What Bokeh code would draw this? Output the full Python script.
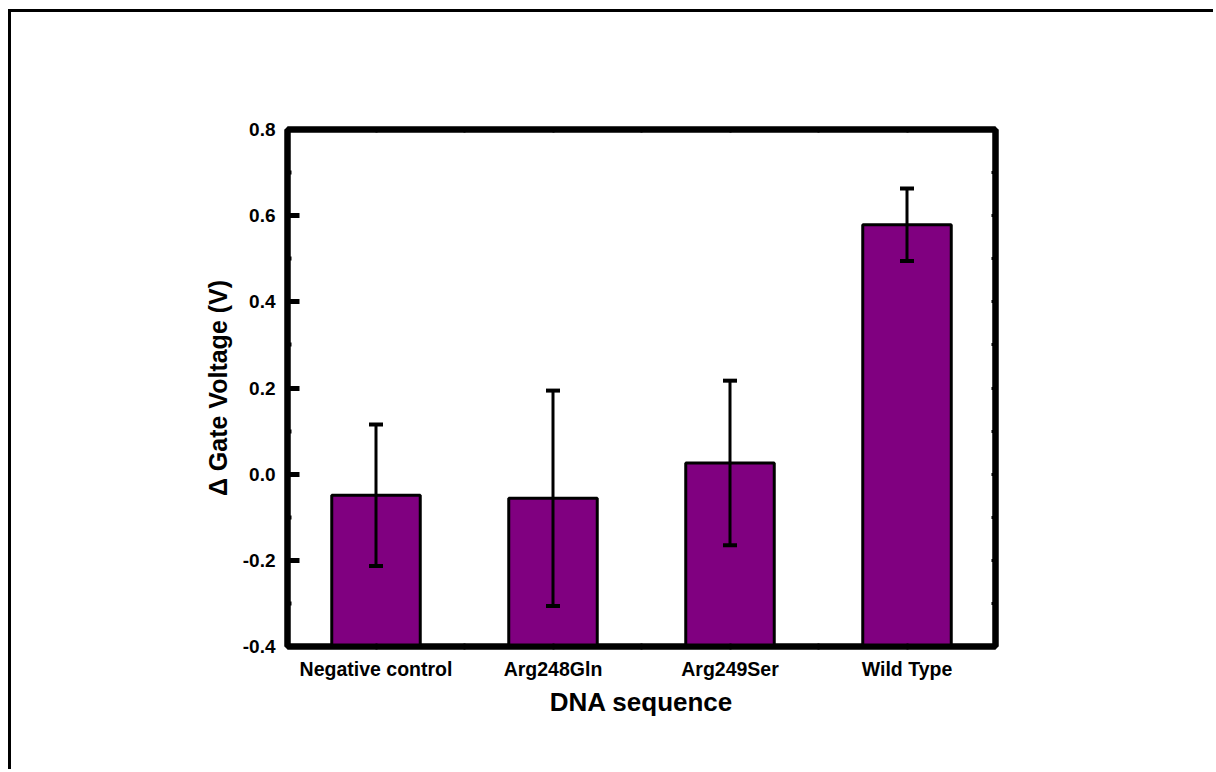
from bokeh.plotting import figure
from bokeh.models import (ColumnDataSource, Range1d, LinearAxis, FixedTicker,
                          Whisker, TeeHead)
from bokeh.embed import file_html
from bokeh.resources import INLINE
import numpy as np

categories = ["Negative control", "Arg248Gln", "Arg249Ser", "Wild Type"]
values = [-0.049, -0.056, 0.026, 0.579]
errors = [0.164, 0.250, 0.191, 0.084]
y_ticks = [-0.4, -0.2, 0.0, 0.2, 0.4, 0.6, 0.8]
y_minor = [-0.3, -0.1, 0.1, 0.3, 0.5, 0.7]

x = np.arange(len(categories)) + 0.5
vals = np.array(values)
errs = np.array(errors)
src = ColumnDataSource(dict(x=x, top=vals, upper=vals + errs, lower=vals - errs))

FONT = "Liberation Sans"
W, H = 1205, 760
fl, fr, ft, fb = 276.5, 984, 117.5, 633.5

p = figure(width=W, height=H, output_backend="svg", toolbar_location=None,
           x_range=Range1d(0, len(categories)), y_range=Range1d(-0.4, 0.8),
           x_axis_location=None, y_axis_location=None,
           min_border_left=int(fl), min_border_right=int(W - fr),
           min_border_top=int(ft), min_border_bottom=int(H - fb))
p.styles = {"margin-left": "8px", "margin-top": "9px",
            "border-left": "3px solid black", "border-top": "3px solid black"}
p.grid.visible = False
p.outline_line_color = "black"
p.outline_line_width = 6
p.background_fill_color = "white"
p.border_fill_color = "white"

p.vbar(x="x", top="top", bottom=-0.4, width=0.5, source=src,
       fill_color="#800080", line_color="black", line_width=3)

w = Whisker(base="x", upper="upper", lower="lower", source=src,
            line_color="black", line_width=3, level="annotation",
            upper_head=TeeHead(size=14, line_width=4, line_color="black"),
            lower_head=TeeHead(size=14, line_width=4, line_color="black"))
p.add_layout(w)

def style_axis(ax):
    ax.axis_line_width = 6
    ax.axis_line_color = "black"
    ax.major_tick_line_color = "black"
    ax.minor_tick_line_color = "black"
    ax.major_label_text_font = FONT
    ax.major_label_text_font_style = "bold"
    ax.major_label_text_color = "black"
    ax.axis_label_text_font = FONT
    ax.axis_label_text_font_style = "bold"
    ax.axis_label_text_color = "black"

yl = LinearAxis(ticker=FixedTicker(ticks=y_ticks, minor_ticks=y_minor))
style_axis(yl)
yl.major_tick_in = 12
yl.major_tick_out = 0
yl.major_tick_line_width = 5
yl.minor_tick_in = 4
yl.minor_tick_out = 0
yl.minor_tick_line_width = 4
yl.major_label_standoff = 12
yl.major_label_text_font_size = "19px"
yl.major_label_overrides = {t: f"{t:.1f}" for t in y_ticks}
yl.axis_label = "\u0394 Gate Voltage (V)"
yl.axis_label_text_font_size = "25px"
yl.axis_label_standoff = 8
p.add_layout(yl, "left")

yr = LinearAxis(ticker=FixedTicker(ticks=y_ticks, minor_ticks=y_minor))
style_axis(yr)
yr.major_tick_in = 4
yr.major_tick_out = 0
yr.minor_tick_in = 4
yr.minor_tick_out = 0
yr.major_tick_line_width = 3
yr.minor_tick_line_width = 3
yr.major_label_text_font_size = "0px"
yr.major_label_text_color = None
p.add_layout(yr, "right")

boundaries = list(np.arange(1, len(categories)))
xb = LinearAxis(ticker=FixedTicker(ticks=list(x), minor_ticks=boundaries))
style_axis(xb)
xb.major_tick_in = 3
xb.major_tick_out = 3
xb.minor_tick_in = 3
xb.minor_tick_out = 3
xb.major_tick_line_width = 2
xb.minor_tick_line_width = 2
xb.major_label_overrides = {float(xi): c for xi, c in zip(x, categories)}
xb.major_label_text_font_size = "19.5px"
xb.major_label_standoff = 8
xb.axis_label = "DNA sequence"
xb.axis_label_text_font_size = "26px"
xb.axis_label_standoff = 4
p.add_layout(xb, "below")

xt = LinearAxis(ticker=FixedTicker(ticks=list(x), minor_ticks=boundaries))
style_axis(xt)
xt.major_tick_in = 3
xt.major_tick_out = 0
xt.minor_tick_in = 3
xt.minor_tick_out = 0
xt.major_tick_line_width = 2
xt.minor_tick_line_width = 2
xt.major_label_text_font_size = "0px"
xt.major_label_text_color = None
p.add_layout(xt, "above")

open("out.html", "w").write(file_html(p, INLINE))
